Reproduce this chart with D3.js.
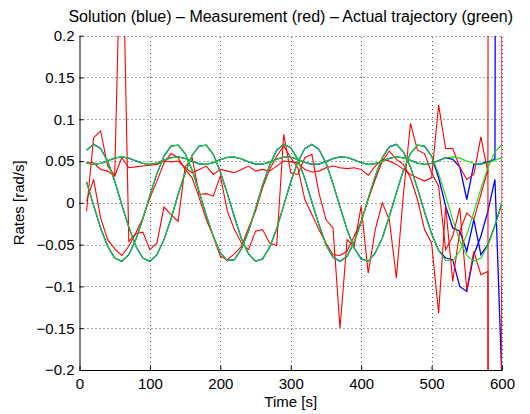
<!DOCTYPE html>
<html>
<head>
<meta charset="utf-8">
<script src="https://cdn.jsdelivr.net/npm/d3@7"></script>
<style>
  body { margin: 0; background: #fff; }
  text { font-family: "Liberation Sans", Arial, Helvetica, sans-serif; fill: #000; }
</style>
</head>
<body>
<svg id="chart" width="530" height="414"></svg>
<script>
// sample times [s]
const time = [10,20,30,40,50,60,70,80,90,100,110,120,130,140,150,160,170,180,190,200,
  210,220,230,240,250,260,270,280,290,300,310,320,330,340,350,360,370,380,390,400,
  410,420,430,440,450,460,470,480,490,500,510,520,530,540,550,560,570,580,590,600];

// actual trajectory (green), one array per rate
const actualA = [0.025,-0.003,-0.030,-0.052,-0.066,-0.070,-0.062,-0.044,-0.019,0.009,
  0.035,0.056,0.068,0.069,0.059,0.039,0.013,-0.015,-0.040,-0.060,
  -0.069,-0.068,-0.055,-0.034,-0.007,0.021,0.045,0.063,0.070,0.066,
  0.052,0.029,0.001,-0.026,-0.050,-0.065,-0.070,-0.064,-0.047,-0.023,
  0.005,0.032,0.054,0.067,0.070,0.061,0.043,0.017,-0.011,-0.037,
  -0.057,-0.069,-0.069,-0.058,-0.038,-0.011,0.017,0.042,0.061,0.070];
const actualB = [0.063,0.070,0.065,0.050,0.026,-0.002,-0.029,-0.052,-0.066,-0.070,
  -0.062,-0.044,-0.019,0.010,0.036,0.057,0.068,0.069,0.058,0.037,
  0.011,-0.017,-0.043,-0.061,-0.070,-0.067,-0.053,-0.031,-0.003,0.025,
  0.049,0.065,0.070,0.064,0.048,0.023,-0.005,-0.032,-0.054,-0.067,
  -0.070,-0.060,-0.042,-0.016,0.012,0.039,0.059,0.069,0.068,0.056,
  0.035,0.008,-0.020,-0.045,-0.063,-0.070,-0.066,-0.051,-0.028,0.000];
const actualC = [0.0476,0.0460,0.0472,0.0503,0.0536,0.0550,0.0536,0.0503,0.0472,0.0460,
  0.0476,0.0510,0.0540,0.0550,0.0531,0.0497,0.0468,0.0461,0.0481,0.0516,
  0.0544,0.0548,0.0526,0.0491,0.0465,0.0463,0.0487,0.0522,0.0547,0.0546,
  0.0520,0.0485,0.0462,0.0465,0.0493,0.0528,0.0549,0.0543,0.0514,0.0480,
  0.0461,0.0469,0.0499,0.0533,0.0550,0.0539,0.0508,0.0475,0.0460,0.0473,
  0.0505,0.0537,0.0550,0.0535,0.0502,0.0471,0.0460,0.0477,0.0511,0.0541];

// measurement (red)
const measA = [0.002,0.028,-0.018,-0.044,-0.055,-0.063,-0.052,-0.036,-0.018,0.006,
  0.026,0.048,0.059,0.054,0.040,0.030,0.006,-0.020,-0.040,-0.064,
  -0.068,-0.061,-0.052,-0.030,-0.010,0.018,0.040,0.056,0.068,0.054,
  0.042,0.004,-0.014,-0.032,-0.048,-0.062,-0.063,-0.058,-0.040,-0.022,
  0.004,0.028,0.050,0.062,0.052,0.046,0.030,0.004,-0.032,-0.048,
  -0.132,-0.004,-0.094,-0.034,-0.012,-0.020,0.010,0.040,-8.0,0.030];
const measB = [-0.010,0.078,0.086,0.044,0.033,0.380,-0.046,-0.037,-0.035,-0.056,
  -0.048,-0.005,-0.014,-0.022,0.043,0.054,0.010,0.011,0.008,0.032,
  -0.010,-0.032,-0.048,-0.056,-0.034,-0.032,-0.048,-0.051,0.082,0.036,
  0.034,0.054,0.058,0.012,-0.020,-0.030,-0.150,-0.044,-0.052,-0.004,
  -0.084,-0.032,0.000,-0.020,-0.090,0.010,0.095,0.063,0.059,0.036,
  0.020,-0.056,-0.040,-0.006,-0.104,-0.058,-0.086,-0.082,-8.0,-0.100];
const measC = [0.048,0.048,0.040,0.038,0.032,0.054,0.042,0.043,0.044,0.045,
  0.046,0.050,0.049,0.050,0.042,0.036,0.040,0.044,0.034,0.040,
  0.038,0.036,0.040,0.044,0.038,0.040,0.038,0.044,0.050,0.049,
  0.048,0.040,0.037,0.038,0.042,0.044,0.042,0.041,0.042,0.040,
  0.033,0.044,0.052,0.050,0.046,0.040,0.034,0.030,0.026,0.030,
  0.117,0.065,0.065,0.043,0.028,0.034,0.079,0.036,8.0,0.030];

// solution (blue)
const solA = [0.025,-0.003,-0.030,-0.052,-0.066,-0.070,-0.062,-0.044,-0.019,0.009,
  0.035,0.056,0.068,0.069,0.059,0.039,0.013,-0.015,-0.040,-0.060,
  -0.069,-0.068,-0.055,-0.034,-0.007,0.021,0.045,0.063,0.070,0.066,
  0.052,0.029,0.001,-0.026,-0.050,-0.065,-0.070,-0.064,-0.047,-0.023,
  0.005,0.032,0.054,0.067,0.070,0.061,0.043,0.017,-0.011,-0.037,
  -0.057,-0.066,-0.068,-0.100,-0.106,-0.062,-0.040,-0.010,0.028,-0.215];
const solB = [0.063,0.070,0.065,0.050,0.026,-0.002,-0.029,-0.052,-0.066,-0.070,
  -0.062,-0.044,-0.019,0.010,0.036,0.057,0.068,0.069,0.058,0.037,
  0.011,-0.017,-0.043,-0.061,-0.070,-0.067,-0.053,-0.031,-0.003,0.025,
  0.049,0.065,0.070,0.064,0.048,0.023,-0.005,-0.032,-0.054,-0.067,
  -0.070,-0.060,-0.042,-0.016,0.012,0.039,0.059,0.069,0.068,0.056,
  0.030,-0.004,-0.030,-0.034,-0.058,-0.020,-0.062,-0.050,-0.027,0.000];
const solC = [0.0476,0.0460,0.0472,0.0503,0.0536,0.0550,0.0536,0.0503,0.0472,0.0460,
  0.0476,0.0510,0.0540,0.0550,0.0531,0.0497,0.0468,0.0461,0.0481,0.0516,
  0.0544,0.0548,0.0526,0.0491,0.0465,0.0463,0.0487,0.0522,0.0547,0.0546,
  0.0520,0.0485,0.0462,0.0465,0.0493,0.0528,0.0549,0.0543,0.0514,0.0480,
  0.0461,0.0469,0.0499,0.0533,0.0550,0.0539,0.0508,0.0475,0.0460,0.0473,
  0.0505,0.0540,0.0520,0.0430,0.0040,0.0460,0.0470,0.0490,0.0520,5.0];

// tick labels
const xTicks = [0,100,200,300,400,500,600];
const yTicks = [-0.2,-0.15,-0.1,-0.05,0,0.05,0.1,0.15,0.2];
const yTickLabels = ["\u22120.2","\u22120.15","\u22120.1","\u22120.05","0","0.05","0.1","0.15","0.2"];

const svg = d3.select("#chart");
const x = d3.scaleLinear().domain([0, 600]).range([79.5, 502]);
const y = d3.scaleLinear().domain([-0.2, 0.2]).range([370, 35.7]);

// clip region = axes box
svg.append("clipPath").attr("id", "plotclip")
  .append("rect")
  .attr("x", x(0)).attr("y", y(0.2))
  .attr("width", x(600) - x(0)).attr("height", y(-0.2) - y(0.2));

// dotted grid
const grid = svg.append("g").attr("stroke", "#555").attr("stroke-width", 1)
  .attr("stroke-dasharray", "1,3").attr("fill", "none");
grid.selectAll(".vgrid").data(xTicks.filter(d => d > 0)).enter()
  .append("line").attr("class", "vgrid")
  .attr("x1", d => Math.round(x(d)) + 0.5).attr("x2", d => Math.round(x(d)) + 0.5)
  .attr("y1", y(-0.2)).attr("y2", y(0.2));
grid.selectAll(".hgrid").data(yTicks.filter(d => d > -0.2)).enter()
  .append("line").attr("class", "hgrid")
  .attr("y1", d => Math.round(y(d)) + 0.5).attr("y2", d => Math.round(y(d)) + 0.5)
  .attr("x1", x(0)).attr("x2", x(600));

// data lines: blue, then red, then green on top
const line = d3.line().x((d, i) => x(time[i])).y(d => y(d));
const plot = svg.append("g").attr("clip-path", "url(#plotclip)").attr("fill", "none");

plot.selectAll(".sol").data([solA, solB, solC]).enter()
  .append("path").attr("class", "sol")
  .attr("d", line).attr("stroke", "#0000ff").attr("stroke-width", 1.3);
plot.selectAll(".meas").data([measA, measB, measC]).enter()
  .append("path").attr("class", "meas")
  .attr("d", line).attr("stroke", "#ff0000").attr("stroke-width", 1.1);
plot.selectAll(".act").data([actualA, actualB, actualC]).enter()
  .append("path").attr("class", "act")
  .attr("d", line).attr("stroke", "#11dd11").attr("stroke-width", 1.1);

// axes (ticks inside, like matlab)
const xAxis = svg.append("g").attr("transform", `translate(0,${y(-0.2)})`)
  .call(d3.axisBottom(x).tickValues(xTicks).tickSizeInner(-4).tickSizeOuter(0).tickPadding(8));
const yAxis = svg.append("g").attr("transform", `translate(${x(0)},0)`)
  .call(d3.axisLeft(y).tickValues(yTicks).tickSizeInner(-4).tickSizeOuter(0).tickPadding(5)
    .tickFormat((d, i) => yTickLabels[i]));
[xAxis, yAxis].forEach(a => {
  a.select(".domain").attr("stroke", "#000");
  a.selectAll(".tick line").attr("stroke", "#000");
  a.selectAll("text").style("font-size", "15px")
    .style("font-family", '"Liberation Sans", Arial, sans-serif');
});

// title and axis labels
svg.append("text")
  .attr("x", (x(0) + x(600)) / 2).attr("y", 22)
  .attr("text-anchor", "middle").style("font-size", "16px")
  .text("Solution (blue) \u2013 Measurement (red) \u2013 Actual trajectory (green)");
svg.append("text")
  .attr("x", (x(0) + x(600)) / 2).attr("y", 407)
  .attr("text-anchor", "middle").style("font-size", "15px")
  .text("Time [s]");
svg.append("text")
  .attr("transform", `translate(24,${y(0)}) rotate(-90)`)
  .attr("text-anchor", "middle").style("font-size", "15px")
  .text("Rates [rad/s]");
</script>
</body>
</html>
